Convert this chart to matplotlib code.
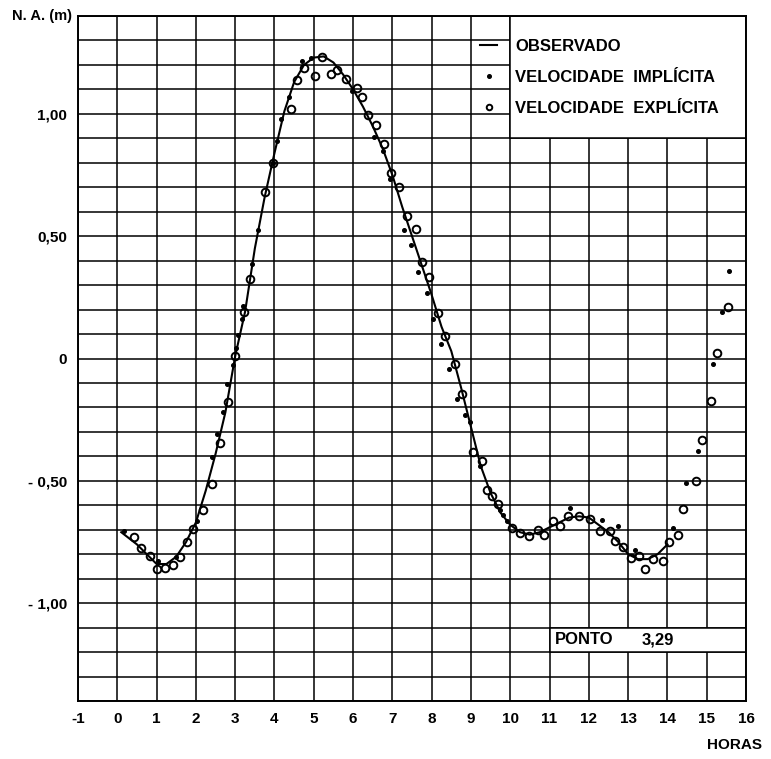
import matplotlib
matplotlib.use("Agg")
import matplotlib.pyplot as plt
from matplotlib.patches import Rectangle
from matplotlib.lines import Line2D
import numpy as np

plt.rcParams['font.family'] = ['Liberation Sans', 'DejaVu Sans']
plt.rcParams['font.weight'] = 'bold'

# --- Data (hours, water level in m) ---
obs_t = [0.1, 0.5, 0.75, 1.0, 1.25, 1.5, 1.75, 2.0, 2.25, 2.5, 2.75, 3.0, 3.25, 3.5,
         3.75, 4.0, 4.25, 4.5, 4.75, 5.0, 5.25, 5.5, 5.75, 6.0, 6.25, 6.5, 6.75,
         7.0, 7.25, 7.5, 7.75, 8.0, 8.25, 8.5, 8.75, 9.0, 9.25, 9.5, 9.75, 10.0,
         10.25, 10.5, 10.75, 11.0, 11.25, 11.5, 11.75, 12.0, 12.25, 12.5, 12.75,
         13.0, 13.25, 13.5, 13.75, 14.0]
obs_v = [-0.71, -0.76, -0.80, -0.84, -0.84, -0.81, -0.75, -0.67, -0.54, -0.39,
         -0.22, 0.01, 0.19, 0.45, 0.66, 0.84, 1.01, 1.13, 1.20, 1.23, 1.235, 1.21,
         1.16, 1.10, 1.03, 0.95, 0.86, 0.75, 0.62, 0.50, 0.38, 0.26, 0.13, 0.03,
         -0.12, -0.28, -0.44, -0.55, -0.63, -0.68, -0.71, -0.72, -0.71, -0.69,
         -0.67, -0.65, -0.645, -0.65, -0.68, -0.71, -0.75, -0.80, -0.82, -0.82,
         -0.80, -0.76]

impl_t = [0.17, 1.04, 1.49, 2.02, 2.40, 2.53, 2.70, 2.80, 2.94, 3.01, 3.08, 3.18,
          3.21, 3.42, 3.59, 3.97, 4.06, 4.17, 4.38, 4.69, 4.92, 5.96, 6.53, 6.77,
          6.94, 7.29, 7.47, 7.66, 7.87, 8.03, 8.23, 8.45, 8.64, 8.85, 8.98, 9.23,
          9.74, 9.82, 9.91, 11.52, 12.33, 12.73, 13.17, 14.15, 14.48, 14.78, 15.17,
          15.38, 15.57]
impl_v = [-0.707, -0.828, -0.810, -0.665, -0.404, -0.307, -0.220, -0.103, -0.025,
          0.044, 0.095, 0.161, 0.214, 0.388, 0.526, 0.798, 0.888, 0.981, 1.070,
          1.215, 1.229, 1.095, 0.905, 0.850, 0.733, 0.526, 0.464, 0.354, 0.269,
          0.161, 0.058, -0.043, -0.167, -0.231, -0.259, -0.438, -0.621, -0.638,
          -0.665, -0.613, -0.661, -0.683, -0.782, -0.693, -0.510, -0.379, -0.022,
          0.189, 0.357]

expl_t = [0.43, 0.60, 0.83, 1.02, 1.21, 1.41, 1.60, 1.77, 1.93, 2.17, 2.40, 2.61,
          2.82, 3.00, 3.22, 3.38, 3.76, 3.97, 4.41, 4.58, 4.76, 5.03, 5.20, 5.43,
          5.60, 5.81, 6.09, 6.22, 6.39, 6.58, 6.79, 6.96, 7.18, 7.36, 7.60, 7.75,
          7.93, 8.15, 8.34, 8.59, 8.76, 9.06, 9.27, 9.40, 9.53, 9.68, 10.04, 10.25,
          10.48, 10.71, 10.86, 11.08, 11.27, 11.46, 11.75, 12.03, 12.28, 12.54,
          12.66, 12.88, 13.07, 13.28, 13.43, 13.64, 13.88, 14.05, 14.26, 14.40,
          14.73, 14.87, 15.10, 15.27, 15.53]
expl_v = [-0.731, -0.773, -0.807, -0.861, -0.855, -0.844, -0.810, -0.752, -0.697,
          -0.620, -0.511, -0.346, -0.179, 0.012, 0.191, 0.326, 0.681, 0.798, 1.018,
          1.139, 1.187, 1.156, 1.233, 1.164, 1.181, 1.143, 1.105, 1.070, 0.997,
          0.956, 0.875, 0.757, 0.701, 0.581, 0.530, 0.395, 0.333, 0.185, 0.090,
          -0.021, -0.145, -0.383, -0.417, -0.538, -0.562, -0.594, -0.693, -0.714,
          -0.724, -0.700, -0.720, -0.665, -0.683, -0.645, -0.642, -0.656, -0.707,
          -0.704, -0.745, -0.769, -0.817, -0.806, -0.861, -0.821, -0.828, -0.748,
          -0.720, -0.614, -0.500, -0.335, -0.172, 0.021, 0.210]

xtick_vals = list(range(-1, 17))
xtick_labels = [str(v) for v in xtick_vals]
ytick_vals = [1.0, 0.5, 0.0, -0.5, -1.0]
ytick_labels = ['1,00', '0,50', '0', '- 0,50', '- 1,00']
legend_labels = ['OBSERVADO', 'VELOCIDADE  IMPLÍCITA', 'VELOCIDADE  EXPLÍCITA']

# --- Figure ---
fig = plt.figure(figsize=(7.71, 7.59), dpi=100)
ax = fig.add_axes([0.1012, 0.0764, 0.8664, 0.9025])

ax.set_xlim(-1, 16)
ax.set_ylim(-1.4, 1.4)
ax.set_xticks(xtick_vals)
ax.set_xticklabels(xtick_labels)
ax.set_yticks(ytick_vals)
ax.set_yticklabels(ytick_labels)
ax.set_yticks(np.arange(-1.4, 1.41, 0.1), minor=True)
ax.tick_params(which='both', length=0, labelsize=11, pad=8)
ax.set_axisbelow(True)
ax.grid(True, which='both', color='black', linewidth=1.1)
for sp in ax.spines.values():
    sp.set_linewidth(1.4)

# white boxes for legend and point label
ax.add_patch(Rectangle((10, 0.9), 6, 0.5, facecolor='white', edgecolor='black',
                       linewidth=1.1, zorder=1))
ax.add_patch(Rectangle((11, -1.2), 5, 0.1, facecolor='white', edgecolor='black',
                       linewidth=1.1, zorder=1))
ax.text(11.14, -1.15, 'PONTO', fontsize=12, fontweight='bold',
        va='center', ha='left', zorder=4)
ax.text(13.35, -1.15, '3,29', fontsize=12, fontweight='bold',
        va='center', ha='left', zorder=4)

ax.plot(obs_t, obs_v, color='black', lw=1.5, zorder=3)
ax.plot(impl_t, impl_v, 'o', color='black', ms=2.6, zorder=4)
ax.plot(expl_t, expl_v, 'o', mfc='none', mec='black', mew=1.4, ms=5.5, zorder=4)

handles = [Line2D([], [], color='black', lw=1.5),
           Line2D([], [], ls='none', marker='o', color='black', ms=2.6),
           Line2D([], [], ls='none', marker='o', mfc='none', mec='black', mew=1.4, ms=4)]
leg = ax.legend(handles, legend_labels, loc='upper left', bbox_to_anchor=(0.58, 0.988),
                frameon=False, handlelength=1.0, handletextpad=1.1, labelspacing=0.95,
                prop={'size': 12, 'weight': 'bold'})
leg.set_zorder(5)

fig.text(0.055, 0.979, 'N. A. (m)', fontsize=10.5, fontweight='bold', ha='center', va='center')
fig.text(0.953, 0.018, 'HORAS', fontsize=11, fontweight='bold', ha='center', va='center')

fig.savefig('out.png', dpi=100, facecolor='white')
